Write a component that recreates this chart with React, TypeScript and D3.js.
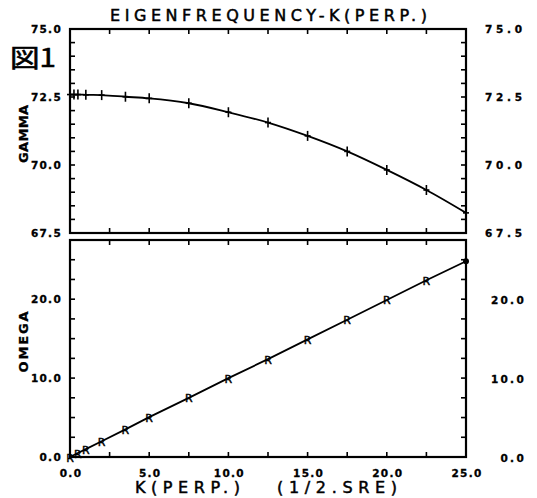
import React from 'react';
import * as d3 from 'd3';

const kGamma = [0, 0.25, 0.5, 1, 2, 3.5, 5, 7.5, 10, 12.5, 15, 17.5, 20, 22.5, 25];
const gammaValues = [72.59, 72.59, 72.59, 72.58, 72.57, 72.51, 72.45, 72.27, 71.94, 71.56, 71.07, 70.5, 69.82, 69.08, 68.24];
const kOmega = [0, 0.5, 1, 2, 3.5, 5, 7.5, 10, 12.5, 15, 17.5, 20, 22.5, 25];
const omegaValues = [0, 0.5, 1.0, 2.0, 3.5, 5.05, 7.5, 10.0, 12.4, 14.9, 17.4, 19.9, 22.4, 24.8];
const xTickValues = [0, 5, 10, 15, 20, 25];
const xTickLabels = ['0.0', '5.0', '10.0', '15.0', '20.0', '25.0'];
const gammaTickValues = [67.5, 70, 72.5, 75];
const gammaTickLabels = ['67.5', '70.0', '72.5', '75.0'];
const omegaTickValues = [0, 10, 20];
const omegaTickLabels = ['0.0', '10.0', '20.0'];

const FONT = '"DejaVu Sans", sans-serif';

export default function App() {
  const x = d3.scaleLinear().domain([0, 25]).range([70, 466]);
  const yG = d3.scaleLinear().domain([67.5, 75]).range([233, 29]);
  const yO = d3.scaleLinear().domain([0, 27.5]).range([457, 240]);

  const xMinor = d3.range(0, 25.001, 2.5);
  const gMinor = d3.range(67.5, 75.001, 0.5);
  const oMinor = d3.range(0, 27.501, 2.5);

  const gammaLine = d3
    .line<number>()
    .x((_, i) => x(kGamma[i]))
    .y((d) => yG(d))
    .curve(d3.curveMonotoneX)(gammaValues) as string;
  const omegaLine = d3
    .line<number>()
    .x((_, i) => x(kOmega[i]))
    .y((d) => yO(d))(omegaValues) as string;

  const T = 5;
  const panels = [
    { y: yG, minor: gMinor, top: 29, bottom: 233 },
    { y: yO, minor: oMinor, top: 240, bottom: 457 },
  ];
  const lbl = { fontSize: 10.5, fontWeight: 'bold' as const, fill: '#000', stroke: '#000', strokeWidth: 0.3 };

  return (
    <svg
      width={537}
      height={498}
      style={{ position: 'absolute', left: 0, top: 0, background: '#fff' }}
      fontFamily={FONT}
    >
      <rect x={0} y={0} width={537} height={498} fill="#fff" />
      {/* title */}
      <text x={110} y={21} fontSize={16} textLength={317} lengthAdjust="spacing" fill="#000" stroke="#000" strokeWidth={0.5}>
        EIGENFREQUENCY-K(PERP.)
      </text>
      <text x={10} y={67} fontSize={25} fontFamily='"Noto Sans CJK JP"' textLength={46} lengthAdjust="spacingAndGlyphs" fill="#000" stroke="#000" strokeWidth={0.6}>
        図1
      </text>

      {panels.map((p, pi) => (
        <g key={pi}>
          <rect x={70} y={p.top} width={396} height={p.bottom - p.top} fill="none" stroke="#000" strokeWidth={2.2} />
          {xMinor.map((v) => (
            <g key={'x' + v}>
              <line x1={x(v)} x2={x(v)} y1={p.top} y2={p.top + T} stroke="#000" strokeWidth={1.6} />
              <line x1={x(v)} x2={x(v)} y1={p.bottom} y2={p.bottom - T} stroke="#000" strokeWidth={1.6} />
            </g>
          ))}
          {p.minor.map((v) => (
            <g key={'y' + v}>
              <line x1={70} x2={70 + T} y1={p.y(v)} y2={p.y(v)} stroke="#000" strokeWidth={1.6} />
              <line x1={466} x2={466 - T} y1={p.y(v)} y2={p.y(v)} stroke="#000" strokeWidth={1.6} />
            </g>
          ))}
        </g>
      ))}

      {/* gamma tick labels */}
      {gammaTickValues.map((v, i) => (
        <g key={'gl' + i}>
          <text x={62} y={yG(v) + 4} {...lbl} textAnchor="end" letterSpacing={1.3}>
            {gammaTickLabels[i]}
          </text>
          <text x={485} y={yG(v) + 4} {...lbl} textLength={37} lengthAdjust="spacing">
            {gammaTickLabels[i]}
          </text>
        </g>
      ))}
      {omegaTickValues.map((v, i) => (
        <g key={'ol' + i}>
          <text x={62} y={yO(v) + 4} {...lbl} textAnchor="end" letterSpacing={1.3}>
            {omegaTickLabels[i]}
          </text>
          <text x={526} y={yO(v) + 4.5} {...lbl} textAnchor="end" letterSpacing={2.3}>
            {omegaTickLabels[i]}
          </text>
        </g>
      ))}
      {xTickValues.map((v, i) => (
        <text key={'xl' + i} x={x(v) + 1} y={477} {...lbl} textAnchor="middle" letterSpacing={1.3}>
          {xTickLabels[i]}
        </text>
      ))}

      {/* axis titles */}
      <text transform="translate(28,134) rotate(-90)" fontSize={13} fontWeight="bold" textAnchor="middle" textLength={58} lengthAdjust="spacing" fill="#000" stroke="#000" strokeWidth={0.3}>
        GAMMA
      </text>
      <text transform="translate(28,342) rotate(-90)" fontSize={13} fontWeight="bold" textAnchor="middle" textLength={61} lengthAdjust="spacing" fill="#000" stroke="#000" strokeWidth={0.3}>
        OMEGA
      </text>
      <text x={135} y={493} fontSize={16} textLength={105} lengthAdjust="spacing" fill="#000" stroke="#000" strokeWidth={0.5}>
        K(PERP.)
      </text>
      <text x={277} y={493} fontSize={16} textLength={120} lengthAdjust="spacing" fill="#000" stroke="#000" strokeWidth={0.5}>
        (1/2.SRE)
      </text>

      {/* gamma curve */}
      <path d={gammaLine} fill="none" stroke="#000" strokeWidth={1.8} />
      {kGamma.map((k, i) => (
        <g key={'gm' + i}>
          <line x1={x(k)} x2={x(k)} y1={yG(gammaValues[i]) - 5} y2={yG(gammaValues[i]) + 5} stroke="#000" strokeWidth={1.6} />
          <line x1={x(k) - 3} x2={x(k) + 3} y1={yG(gammaValues[i])} y2={yG(gammaValues[i])} stroke="#000" strokeWidth={1.6} />
        </g>
      ))}

      {/* omega curve */}
      <path d={omegaLine} fill="none" stroke="#000" strokeWidth={1.8} />
      {kOmega.map((k, i) =>
        i === kOmega.length - 1 ? (
          <circle key={'om' + i} cx={x(k)} cy={yO(omegaValues[i])} r={3} fill="#000" />
        ) : (
          <text key={'om' + i} x={x(k)} y={yO(omegaValues[i]) + 4.5} fontSize={11} textAnchor="middle" fill="#000" stroke="#000" strokeWidth={0.4}>
            R
          </text>
        )
      )}
    </svg>
  );
}
